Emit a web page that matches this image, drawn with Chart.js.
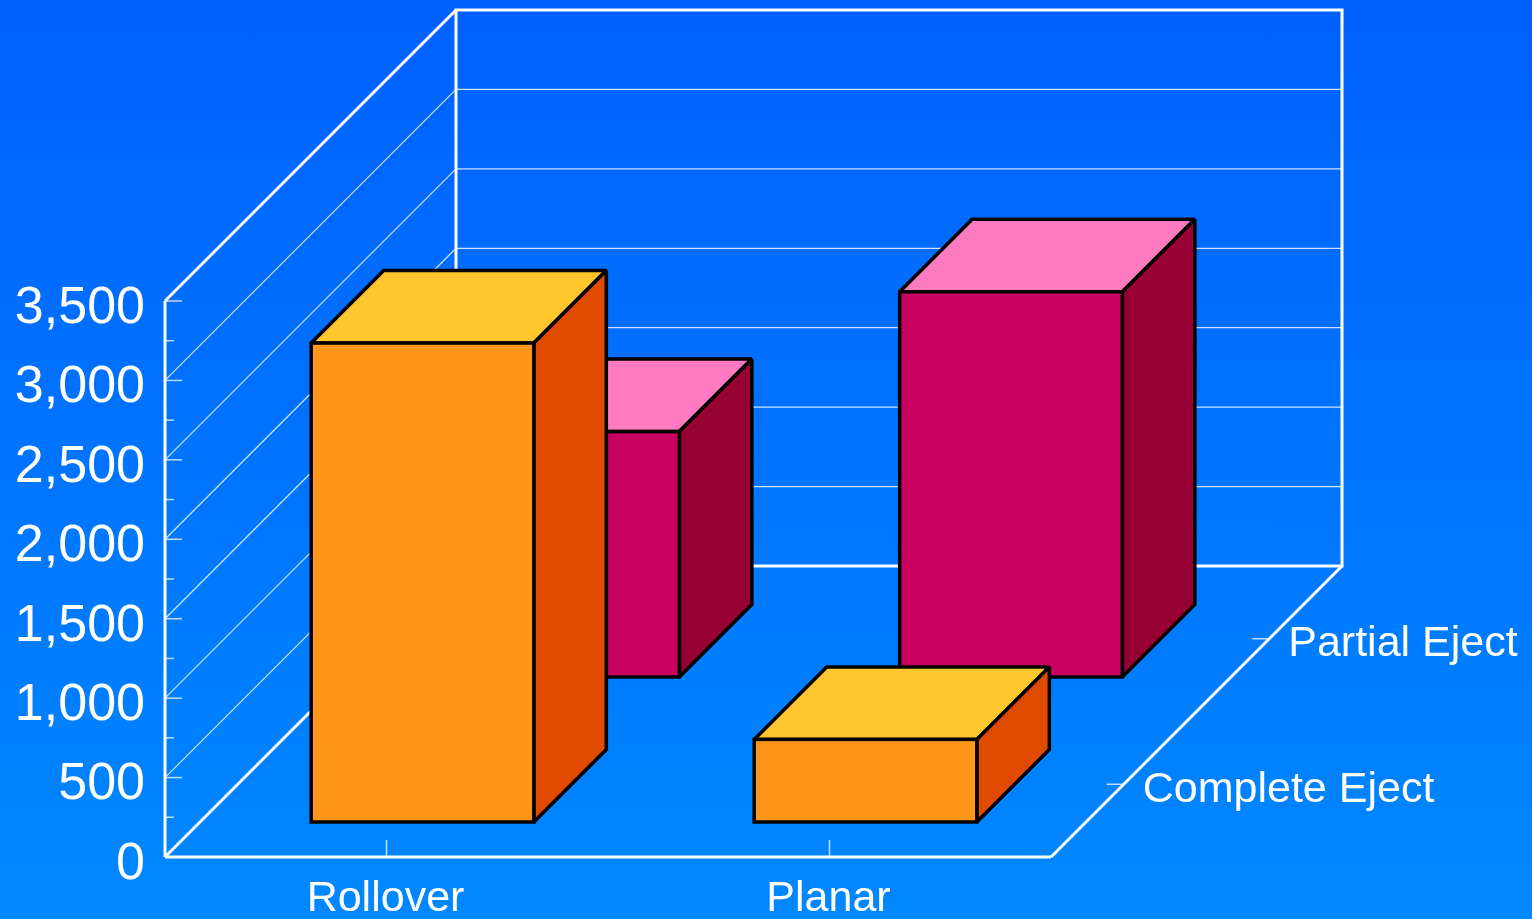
<!DOCTYPE html>
<html>
<head>
<meta charset="utf-8">
<title>Eject by crash type</title>
<script src="https://cdn.jsdelivr.net/npm/chart.js@4"></script>
<style>
  html, body { margin: 0; padding: 0; width: 1532px; height: 919px; overflow: hidden; }
  body { background: linear-gradient(to bottom, #0060ff, #0088ff); }
  canvas { display: block; }
</style>
</head>
<body>
<canvas id="crashChart" width="1532" height="919"></canvas>
<script>
const categories = ["Rollover", "Planar"];
const completeEject = [3015, 520];
const partialEject = [1545, 2425];

const seriesNames = ["Complete Eject", "Partial Eject"];
const frontColors = ["#ff9619", "#c80060"];
const topColors = ["#ffc62e", "#ff7ac0"];
const sideColors = ["#e04b00", "#960032"];

/* 3D look: how far each row sits back, and how deep the floor and bars are */
const rowShift = [{ x: 36, y: 35 }, { x: 181.5, y: 180 }];
const floorDepth = 291;
const barDepth = 72.5;
const minorStep = 250;

function line(ctx, x1, y1, x2, y2) {
  ctx.beginPath();
  ctx.moveTo(x1, y1);
  ctx.lineTo(x2, y2);
  ctx.stroke();
}

function poly(ctx, pts, fill) {
  ctx.beginPath();
  pts.forEach((p, i) => (i ? ctx.lineTo(p[0], p[1]) : ctx.moveTo(p[0], p[1])));
  ctx.closePath();
  ctx.fillStyle = fill;
  ctx.fill();
  ctx.stroke();
}

/* ===============================
   WALLS, FLOOR AND AXIS MARKS
================================ */
const walls3d = {
  id: "walls3d",
  beforeDatasetsDraw(chart) {
    const { ctx, chartArea: a, scales: { x, y } } = chart;
    const d = floorDepth;

    ctx.save();
    ctx.lineJoin = "miter";

    // grid lines on the two walls
    ctx.strokeStyle = "rgba(255,255,255,0.8)";
    ctx.lineWidth = 1.2;
    y.ticks.forEach(t => {
      const py = y.getPixelForValue(t.value);
      if (t.value === y.min || t.value === y.max) return;
      line(ctx, a.left, py, a.left + d, py - d);
      line(ctx, a.left + d, py - d, a.right + d, py - d);
    });

    // ticks on the value axis
    ctx.strokeStyle = "rgba(255,255,255,0.75)";
    ctx.lineWidth = 1.5;
    for (let v = y.min; v <= y.max; v += minorStep) {
      const py = y.getPixelForValue(v);
      line(ctx, a.left, py, a.left + (v % 500 === 0 ? 17 : 9), py);
    }

    // ticks on the category axis
    categories.forEach((c, i) => {
      const px = x.getPixelForValue(i);
      line(ctx, px, a.bottom, px, a.bottom - 17);
    });

    // ticks on the depth axis
    seriesNames.forEach((n, i) => {
      const off = d * (i + 0.5) / seriesNames.length;
      line(ctx, a.right + off - 17, a.bottom - off, a.right + off, a.bottom - off);
    });

    // frame
    ctx.strokeStyle = "#ffffff";
    ctx.lineWidth = 3;
    ctx.strokeRect(a.left + d, a.top - d, a.right - a.left, a.bottom - a.top);
    line(ctx, a.left, a.top, a.left, a.bottom);
    line(ctx, a.left, a.top, a.left + d, a.top - d);
    line(ctx, a.left, a.bottom, a.right, a.bottom);
    line(ctx, a.left, a.bottom, a.left + d, a.bottom - d);
    line(ctx, a.right, a.bottom, a.right + d, a.bottom - d);

    // series names beside the depth axis
    ctx.fillStyle = "#ffffff";
    ctx.font = '43px "Liberation Sans"';
    ctx.textAlign = "left";
    ctx.textBaseline = "middle";
    seriesNames.forEach((n, i) => {
      const off = d * (i + 0.5) / seriesNames.length;
      ctx.fillText(n, a.right + off + 19, a.bottom - off + 5.5);
    });
    ctx.restore();
  }
};

/* ===============================
   BARS: TOP AND SIDE FACES
================================ */
const bars3d = {
  id: "bars3d",
  beforeDatasetDraw(chart, args) {
    const { ctx } = chart;
    const i = args.index;
    const s = rowShift[i];
    ctx.save();
    ctx.translate(s.x, -s.y);
    ctx.strokeStyle = "#000000";
    ctx.lineWidth = 3.5;
    ctx.lineJoin = "miter";
    ctx.miterLimit = 2;
    args.meta.data.forEach(bar => {
      const l = bar.x - bar.width / 2;
      const r = bar.x + bar.width / 2;
      const t = bar.y;
      const b = bar.base;
      poly(ctx, [[l, t], [r, t], [r + barDepth, t - barDepth], [l + barDepth, t - barDepth]], topColors[i]);
      poly(ctx, [[r, t], [r + barDepth, t - barDepth], [r + barDepth, b - barDepth], [r, b]], sideColors[i]);
    });
  },
  afterDatasetDraw(chart, args) {
    const { ctx } = chart;
    args.meta.data.forEach(bar => {
      ctx.strokeRect(bar.x - bar.width / 2, bar.y, bar.width, bar.base - bar.y);
    });
    ctx.restore();
  }
};

function makeDataset(i, values) {
  return {
    label: seriesNames[i],
    data: values,
    backgroundColor: frontColors[i],
    borderWidth: 0,
    grouped: false,
    clip: false,
    barPercentage: 0.5026,
    categoryPercentage: 1
  };
}

new Chart(document.getElementById("crashChart"), {
  type: "bar",
  data: {
    labels: categories,
    datasets: [makeDataset(0, completeEject), makeDataset(1, partialEject)]
  },
  options: {
    responsive: false,
    animation: false,
    locale: "en-US",
    layout: { padding: { top: 301, right: 481, left: 0, bottom: 0 } },
    plugins: {
      legend: { display: false },
      tooltip: { enabled: false }
    },
    scales: {
      x: {
        grid: { display: false },
        border: { display: false },
        afterFit: s => { s.height = 62; },
        ticks: {
          color: "#ffffff",
          padding: 8,
          labelOffset: -1,
          maxRotation: 0,
          font: { family: "Liberation Sans", size: 43 }
        }
      },
      y: {
        min: 0,
        max: 3500,
        grid: { display: false, drawTicks: false },
        border: { display: false },
        afterFit: s => { s.width = 165; },
        ticks: {
          color: "#ffffff",
          stepSize: 500,
          padding: 20,
          labelOffset: 7.5,
          font: { family: "Liberation Sans", size: 52 }
        }
      }
    }
  },
  plugins: [walls3d, bars3d]
});
</script>
</body>
</html>
